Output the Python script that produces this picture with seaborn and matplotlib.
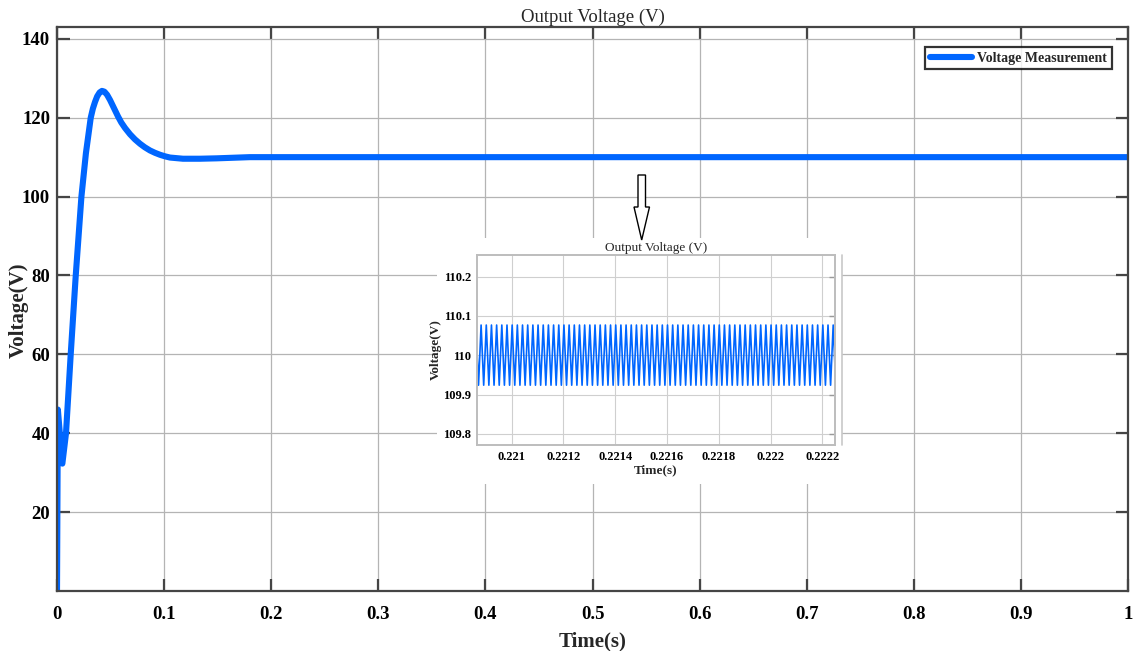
import numpy as np
import pandas as pd
import matplotlib
matplotlib.use("Agg")
import matplotlib.pyplot as plt
import seaborn as sns
from matplotlib.patches import Polygon, Rectangle
from matplotlib.lines import Line2D

# ---------------- data ----------------
main_time = [0.0, 0.0008, 0.0050, 0.0084, 0.0128, 0.0175, 0.0228, 0.0270,
             0.0315, 0.0335, 0.0355, 0.0375, 0.0398, 0.0420, 0.0443, 0.0468,
             0.0495, 0.0520, 0.0545, 0.0570, 0.0600, 0.0635, 0.0682, 0.0728,
             0.0775, 0.0820, 0.0868, 0.0915, 0.0962, 0.1010, 0.1055, 0.1176,
             0.1335, 0.1490, 0.1800, 0.3000, 0.5000, 0.7000, 0.9000, 1.0000]
main_voltage = [0.0, 46.0, 32.3, 40.0, 60.0, 80.0, 100.0, 111.0,
                120.0, 122.3, 124.0, 125.4, 126.4, 126.8, 126.6, 125.8,
                124.5, 123.1, 121.7, 120.3, 118.8, 117.4, 115.8, 114.5,
                113.4, 112.5, 111.7, 111.1, 110.6, 110.2, 109.9, 109.6,
                109.6, 109.7, 110.0, 110.0, 110.0, 110.0, 110.0, 110.0]

main_xticks = [0, 0.1, 0.2, 0.3, 0.4, 0.5, 0.6, 0.7, 0.8, 0.9, 1.0]
main_xlabels = ["0", "0.1", "0.2", "0.3", "0.4", "0.5", "0.6", "0.7", "0.8", "0.9", "1"]
main_yticks = [20, 40, 60, 80, 100, 120, 140]

# inset: 50 kHz switching ripple around 110 V
ripple_first_peak = 0.220882
ripple_period = 2.0e-5
ripple_high = 110.077
ripple_low = 109.924
inset_xticks = [0.221, 0.2212, 0.2214, 0.2216, 0.2218, 0.222, 0.2222]
inset_xlabels = ["0.221", "0.2212", "0.2214", "0.2216", "0.2218", "0.222", "0.2222"]
inset_yticks = [109.8, 109.9, 110.0, 110.1, 110.2]
inset_ylabels = ["109.8", "109.9", "110", "110.1", "110.2"]

# ---------------- style ----------------
sns.set_theme(style="whitegrid")
plt.rcParams["font.family"] = ["Liberation Serif", "DejaVu Serif"]
blue = "#0066ff"
spine_c = "#454545"

W, H = 1133, 651
fig = plt.figure(figsize=(W / 100, H / 100), dpi=100, facecolor="white")

def fx(px):
    return px / W

def fy(py):
    return 1 - py / H

# ---------------- main axes ----------------
ax = fig.add_axes([fx(57), fy(591), fx(1128) - fx(57), fy(27) - fy(591)])
ax.set_facecolor("white")
df_main = pd.DataFrame({"Time": main_time, "Voltage": main_voltage})
sns.lineplot(data=df_main, x="Time", y="Voltage", ax=ax, color=blue, lw=4.4,
             sort=False, estimator=None, label="Voltage Measurement")
ax.lines[0].set_solid_joinstyle("round")
ax.set_xlim(0, 1)
ax.set_ylim(0, 143)
ax.set_xticks(main_xticks)
ax.set_xticklabels(main_xlabels)
ax.set_yticks(main_yticks)
ax.set_yticklabels([str(v) for v in main_yticks])
ax.grid(True, color="#b4b4b4", lw=0.9)
for s in ax.spines.values():
    s.set_color(spine_c)
    s.set_linewidth(1.6)
    s.set_visible(True)
ax.tick_params(direction="in", length=9, width=1.6, color=spine_c,
               top=True, right=True, bottom=True, left=True,
               labelsize=13.5, labelcolor="black")
ax.tick_params(axis="x", pad=11)
ax.tick_params(axis="y", pad=5)
for lab in ax.get_xticklabels() + ax.get_yticklabels():
    lab.set_fontweight("bold")
ax.set_xlabel("Time(s)", fontsize=15, fontweight="bold", labelpad=6)
ax.set_ylabel("Voltage(V)", fontsize=15, fontweight="bold")
ax.yaxis.set_label_coords((29 - 57) / 1071, (591 - 310) / 564)
ax.set_title("Output Voltage (V)", fontsize=13.5, pad=4)
leg = ax.legend(loc="upper right", bbox_to_anchor=(0.985, 0.965), borderaxespad=0,
                frameon=True, fancybox=False, handlelength=3.0, fontsize=10,
                borderpad=0.35, handletextpad=0.4)
leg.get_frame().set_edgecolor("black")
leg.get_frame().set_linewidth(1.6)
for t in leg.get_texts():
    t.set_fontweight("bold")
for l in leg.get_lines():
    l.set_linewidth(4.4)

# white backdrop of the pasted inset
fig.add_artist(Rectangle((fx(437), fy(484)), fx(842) - fx(437), fy(238) - fy(484),
                         transform=fig.transFigure, facecolor="white", edgecolor="none",
                         zorder=5))
fig.add_artist(Line2D([fx(842), fx(842)], [fy(445), fy(255)], transform=fig.transFigure,
                      color="#c8c8c8", lw=1.2, zorder=6))

# hollow arrow
arrow_px = [(638, 175), (645.5, 175), (645.5, 207), (649.5, 207), (641.7, 240),
            (634, 207), (638, 207)]
fig.add_artist(Polygon([(fx(x), fy(y)) for x, y in arrow_px], closed=True,
                       transform=fig.transFigure, facecolor="white",
                       edgecolor="black", lw=1.0, zorder=7))

# ---------------- inset ----------------
axi = fig.add_axes([fx(476.7), fy(445), fx(835) - fx(476.7), fy(255) - fy(445)], zorder=10)
axi.set_facecolor("white")
xlo, xhi = 0.220865, 0.222249
n0 = int(np.floor((xlo - ripple_first_peak) / ripple_period)) - 1
n1 = int(np.ceil((xhi - ripple_first_peak) / ripple_period)) + 1
rt, rv = [], []
for k in range(n0, n1 + 1):
    tp = ripple_first_peak + k * ripple_period
    rt += [tp, tp + ripple_period / 2]
    rv += [ripple_high, ripple_low]
df_in = pd.DataFrame({"Time": rt, "Voltage": rv})
sns.lineplot(data=df_in, x="Time", y="Voltage", ax=axi, color=blue, lw=1.2,
             sort=False, estimator=None)
axi.set_xlim(xlo, xhi)
axi.set_ylim(109.772, 110.255)
axi.set_xticks(inset_xticks)
axi.set_xticklabels(inset_xlabels)
axi.set_yticks(inset_yticks)
axi.set_yticklabels(inset_ylabels)
axi.grid(True, color="#cfcfcf", lw=0.8)
for s in axi.spines.values():
    s.set_color("#bdbdbd")
    s.set_linewidth(1.4)
    s.set_visible(True)
axi.tick_params(direction="in", length=4, width=1.0, color="#9a9a9a",
                top=False, right=True, labelsize=9, labelcolor="black", pad=4)
for lab in axi.get_xticklabels() + axi.get_yticklabels():
    lab.set_fontweight("bold")
axi.set_xlabel("Time(s)", fontsize=9.5, fontweight="bold", labelpad=1)
axi.set_ylabel("Voltage(V)", fontsize=9.5, fontweight="bold", labelpad=1)
axi.set_title("Output Voltage (V)", fontsize=9.5, pad=3)

fig.savefig("out.png", dpi=100, facecolor="white")
